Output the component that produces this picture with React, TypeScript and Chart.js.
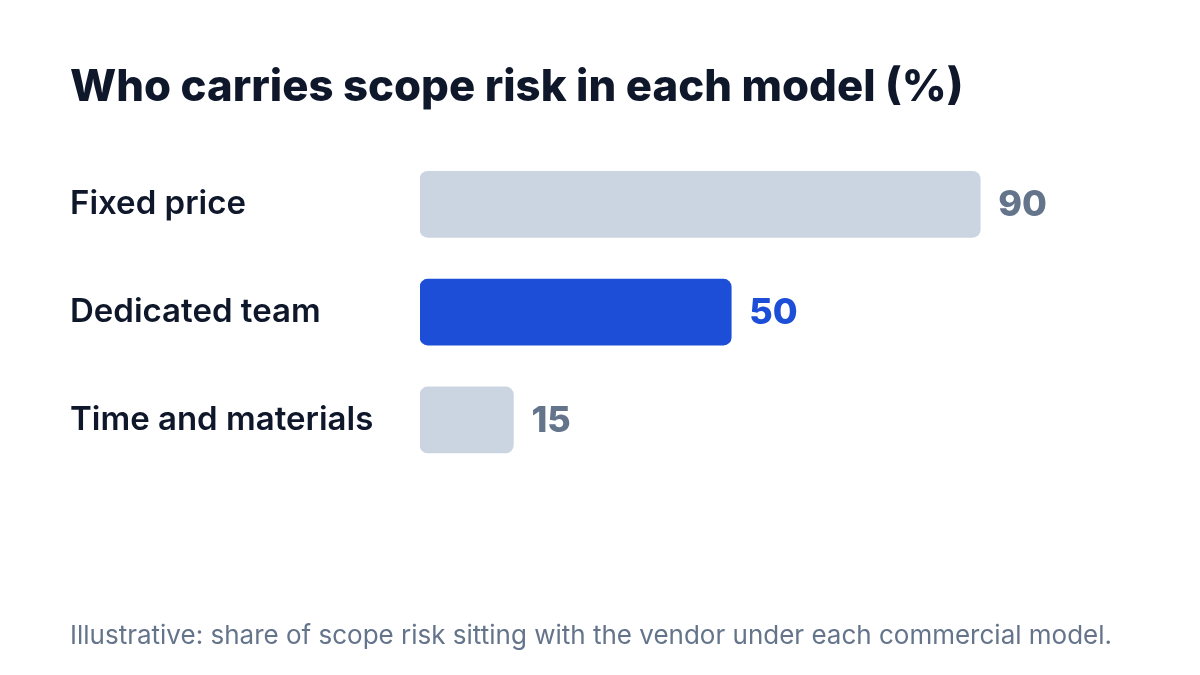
import React, { useEffect, useRef } from "react";
import { Chart, registerables } from "chart.js";

Chart.register(...registerables);

const categories = ["Fixed price", "Dedicated team", "Time and materials"];
const vendorRisk = [90, 50, 15];
const highlighted = "Dedicated team";

const titleText = "Who carries scope risk in each model (%)";
const footnote =
  "Illustrative: share of scope risk sitting with the vendor under each commercial model.";

const ink = "#0f172a";
const muted = "#64748b";
const barGrey = "#cbd5e1";
const blue = "#1d4ed8";
const font = "Inter, 'DejaVu Sans', sans-serif";

const valueLabels = {
  id: "valueLabels",
  afterDatasetsDraw(chart: Chart) {
    const ctx = chart.ctx;
    const meta = chart.getDatasetMeta(0);
    ctx.save();
    ctx.font = `800 36px ${font}`;
    ctx.textAlign = "left";
    ctx.textBaseline = "middle";
    meta.data.forEach((bar: any, i: number) => {
      ctx.fillStyle = categories[i] === highlighted ? blue : muted;
      ctx.fillText(String(vendorRisk[i]), bar.x + 18, bar.y + 1);
    });
    ctx.restore();
  },
};

const App: React.FC = () => {
  const canvasRef = useRef<HTMLCanvasElement>(null);

  useEffect(() => {
    document.body.style.margin = "0";
    document.body.style.background = "#ffffff";
    let chart: Chart | null = null;
    if (canvasRef.current) {
      chart = new Chart(canvasRef.current, {
        type: "bar",
        data: {
          labels: categories,
          datasets: [
            {
              label: "Vendor share of scope risk",
              data: vendorRisk,
              backgroundColor: categories.map((c) => (c === highlighted ? blue : barGrey)),
              borderRadius: 8,
              borderSkipped: false,
              barThickness: 66,
            },
          ],
        },
        options: {
          indexAxis: "y",
          responsive: true,
          maintainAspectRatio: false,
          animation: false,
          layout: { padding: { left: 70, right: 33, top: 0, bottom: 0 } },
          scales: {
            x: {
              display: false,
              min: 0,
              max: 120,
            },
            y: {
              grid: { display: false },
              border: { display: false },
              afterFit: (scale: any) => {
                scale.width = 350;
              },
              ticks: {
                crossAlign: "far",
                color: ink,
                font: { family: font, size: 33, weight: 600 },
              },
            },
          },
          plugins: {
            legend: { display: false },
            tooltip: { enabled: false },
            title: {
              display: true,
              text: titleText,
              align: "start",
              color: ink,
              font: { family: font, size: 43.7, weight: 800, lineHeight: 1.2 },
              padding: { top: 62, bottom: 36 },
            },
            subtitle: {
              display: true,
              position: "bottom",
              text: footnote,
              align: "start",
              color: muted,
              font: { family: font, size: 26, weight: 400, lineHeight: 1.2 },
              padding: { top: 147, bottom: 23 },
            },
          },
        },
        plugins: [valueLabels],
      });
    }
    return () => {
      if (chart) chart.destroy();
    };
  }, []);

  return (
    <div style={{ width: 1200, height: 675, position: "relative", background: "#ffffff" }}>
      <canvas ref={canvasRef} />
    </div>
  );
};

export default App;
